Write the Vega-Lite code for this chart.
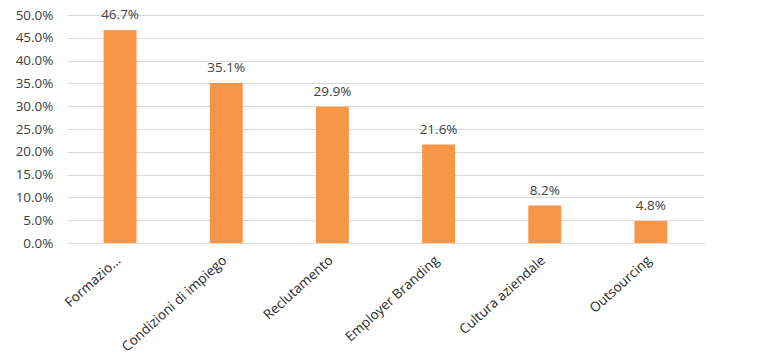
{
  "$schema": "https://vega.github.io/schema/vega-lite/v6.json",
  "autosize": "none",
  "width": 637,
  "height": 228,
  "padding": {"left": 67, "top": 15, "right": 55, "bottom": 112},
  "background": "white",
  "config": {"view": {"stroke": null}, "font": "Open Sans"},
  "data": {
    "values": [
      {"categoria": "Formazio...", "valore": 0.467},
      {"categoria": "Condizioni di impiego", "valore": 0.351},
      {"categoria": "Reclutamento", "valore": 0.299},
      {"categoria": "Employer Branding", "valore": 0.216},
      {"categoria": "Cultura aziendale", "valore": 0.082},
      {"categoria": "Outsourcing", "valore": 0.048}
    ]
  },
  "encoding": {
    "x": {
      "field": "categoria",
      "type": "nominal",
      "sort": null,
      "scale": {"paddingInner": 0.69, "paddingOuter": 0.345},
      "axis": {
        "title": null,
        "labelAngle": -42,
        "labelFontSize": 13.5,
        "labelColor": "#262626",
        "labelFont": "Open Sans",
        "ticks": false,
        "domainColor": "#d9d9d9",
        "labelPadding": 10,
        "labelOffset": -6,
        "labelLimit": 300
      }
    },
    "y": {
      "field": "valore",
      "type": "quantitative",
      "scale": {"domain": [0, 0.5], "nice": false},
      "axis": {
        "title": null,
        "format": ".1%",
        "values": [0, 0.05, 0.1, 0.15, 0.2, 0.25, 0.3, 0.35, 0.4, 0.45, 0.5],
        "labelFontSize": 13.5,
        "labelColor": "#404040",
        "labelFont": "Open Sans",
        "ticks": false,
        "domain": false,
        "gridColor": "#d9d9d9",
        "labelPadding": 14
      }
    }
  },
  "layer": [
    {"mark": {"type": "bar", "color": "#F79646"}},
    {
      "mark": {"type": "text", "baseline": "bottom", "dy": -8, "fontSize": 13.5, "color": "#404040", "font": "Open Sans"},
      "encoding": {"text": {"field": "valore", "type": "quantitative", "format": ".1%"}}
    }
  ]
}
